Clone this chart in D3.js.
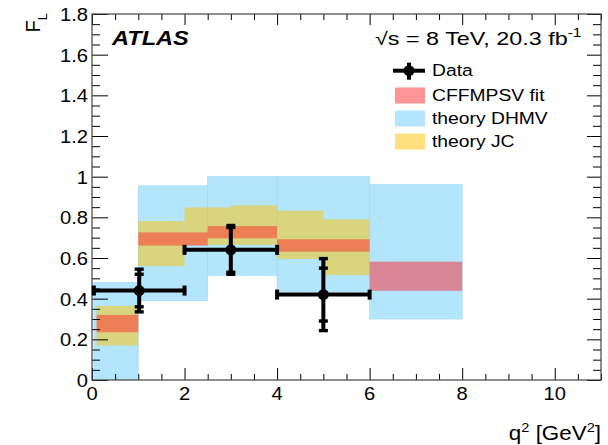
<!DOCTYPE html>
<html>
<head>
<meta charset="utf-8">
<script src="https://cdn.jsdelivr.net/npm/d3@7"></script>
<style>
  html, body { margin: 0; padding: 0; background: #fff; }
  svg { display: block; font-family: "Liberation Sans", Arial, Helvetica, sans-serif; }
</style>
</head>
<body>
<svg id="chart" width="608" height="445"></svg>
<script>
// ---- Measured longitudinal polarisation F_L in q^2 bins ----
const dataQ2 = [1.02, 3, 5];
const dataQ2Lo = [0.04, 2, 4];
const dataQ2Hi = [2, 4, 6];
const dataFL = [0.44, 0.64, 0.42];
const dataStat = [0.08, 0.11, 0.13];
const dataTotal = [0.105, 0.12, 0.177];

// ---- Theory DHMV bands ----
const dhmvQ2Lo = [0.04, 1, 2.5, 4, 6];
const dhmvQ2Hi = [1, 2.5, 4, 6, 8];
const dhmvLo = [0, 0.39, 0.515, 0.435, 0.30];
const dhmvHi = [0.48, 0.955, 1.0, 1.0, 0.962];

// ---- Theory JC bands ----
const jcQ2Lo = [0.1, 1, 2, 3, 4, 5];
const jcQ2Hi = [1, 2, 3, 4, 5, 6];
const jcLo = [0.17, 0.56, 0.665, 0.665, 0.595, 0.516];
const jcHi = [0.364, 0.782, 0.849, 0.859, 0.833, 0.79];

// ---- CFFMPSV fit bands ----
const fitQ2Lo = [0.1, 1, 2.5, 4, 6];
const fitQ2Hi = [1, 2.5, 4, 6, 8];
const fitLo = [0.235, 0.661, 0.697, 0.631, 0.439];
const fitHi = [0.32, 0.726, 0.757, 0.692, 0.582];

// ---- Axis ticks ----
const xTicks = [0, 2, 4, 6, 8, 10];
const xTickLabels = ["0", "2", "4", "6", "8", "10"];
const yTicks = [0, 0.2, 0.4, 0.6, 0.8, 1.0, 1.2, 1.4, 1.6, 1.8];
const yTickLabels = ["0", "0.2", "0.4", "0.6", "0.8", "1", "1.2", "1.4", "1.6", "1.8"];

const legendLabels = ["Data", "CFFMPSV fit", "theory DHMV", "theory JC"];

// ---- Colours ----
const blueFill = "#b3e5fc";
const yellowFill = "rgba(255,195,0,0.5)";
const redFill = "rgba(255,41,45,0.5)";

const svg = d3.select("#chart");
const W = 608, H = 445;
const plot = { left: 92, right: 601, top: 14, bottom: 380 };

const x = d3.scaleLinear().domain([0, 11]).range([plot.left, plot.right]);
const y = d3.scaleLinear().domain([0, 1.8]).range([plot.bottom, plot.top]);

// text helper: horizontally widened Helvetica-like text
const SX = 1.12;
function addText(parent, px, py, str, size, anchor, sx) {
  return parent.append("text")
    .attr("transform", `translate(${px},${py}) scale(${sx || SX},1)`)
    .attr("text-anchor", anchor || "start")
    .attr("font-size", size)
    .attr("fill", "#000")
    .text(str);
}
// rescale a text element so that its rendered width equals target
function fitWidth(sel, px, py, target) {
  const w = sel.node().getBBox().width;
  sel.attr("transform", `translate(${px},${py}) scale(${target / w},1)`);
}

const bands = svg.append("g").attr("clip-path", "url(#plotclip)");
svg.append("clipPath").attr("id", "plotclip").append("rect")
  .attr("x", plot.left).attr("y", plot.top)
  .attr("width", plot.right - plot.left).attr("height", plot.bottom - plot.top);

function drawBands(lo, hi, vLo, vHi, fill, stroke) {
  bands.append("g").selectAll("rect")
    .data(d3.range(lo.length))
    .join("rect")
    .attr("x", i => x(lo[i]))
    .attr("width", i => x(hi[i]) - x(lo[i]))
    .attr("y", i => y(vHi[i]))
    .attr("height", i => y(vLo[i]) - y(vHi[i]))
    .attr("fill", fill)
    .attr("stroke", stroke || "none")
    .attr("stroke-width", 0.6);
}
drawBands(dhmvQ2Lo, dhmvQ2Hi, dhmvLo, dhmvHi, blueFill, "#9fd8f8");
drawBands(jcQ2Lo, jcQ2Hi, jcLo, jcHi, yellowFill);
drawBands(fitQ2Lo, fitQ2Hi, fitLo, fitHi, redFill);

// ---- Axes: inward major + minor ticks on all four sides ----
const axes = svg.append("g");
function tickAxis(gen, scale, values, size, transform) {
  const g = axes.append("g").attr("transform", transform)
    .call(gen(scale).tickValues(values).tickSize(size).tickFormat(""));
  g.select(".domain").remove();
  g.selectAll("line").attr("stroke", "#000").attr("stroke-width", 1);
}
const xMinor = d3.range(0, 11.01, 0.5).filter(v => v % 2 !== 0);
const yMinor = d3.range(0, 1.801, 0.05).map(v => +v.toFixed(2)).filter(v => Math.round(v * 100) % 20 !== 0);

tickAxis(d3.axisBottom, x, xTicks, -12, `translate(0,${plot.bottom})`);
tickAxis(d3.axisBottom, x, xMinor, -6, `translate(0,${plot.bottom})`);
tickAxis(d3.axisTop, x, xTicks, -11, `translate(0,${plot.top})`);
tickAxis(d3.axisTop, x, xMinor, -6, `translate(0,${plot.top})`);
tickAxis(d3.axisLeft, y, yTicks, -16, `translate(${plot.left},0)`);
tickAxis(d3.axisLeft, y, yMinor, -8, `translate(${plot.left},0)`);
tickAxis(d3.axisRight, y, yTicks, -14, `translate(${plot.right},0)`);
tickAxis(d3.axisRight, y, yMinor, -8, `translate(${plot.right},0)`);

axes.append("rect")
  .attr("x", plot.left).attr("y", plot.top)
  .attr("width", plot.right - plot.left).attr("height", plot.bottom - plot.top)
  .attr("fill", "none").attr("stroke", "#444").attr("stroke-width", 1.2);

// tick labels
xTicks.forEach((v, i) => addText(axes, x(v), plot.bottom + 20, xTickLabels[i], 18, "middle"));
yTicks.forEach((v, i) => addText(axes, plot.left - 4, y(v) + 7, yTickLabels[i], 18, "end"));

// axis titles
const xt = axes.append("text")
  .attr("text-anchor", "end").attr("font-size", 20)
  .attr("transform", `translate(${plot.right},440) scale(${SX},1)`);
xt.append("tspan").text("q");
xt.append("tspan").attr("font-size", 13).attr("dy", -8).text("2");
xt.append("tspan").attr("dy", 8).text(" [GeV");
xt.append("tspan").attr("font-size", 13).attr("dy", -8).text("2");
xt.append("tspan").attr("dy", 8).text("]");

const yt = axes.append("text")
  .attr("text-anchor", "end").attr("font-size", 20)
  .attr("transform", "translate(40,13) rotate(-90)");
yt.append("tspan").text("F");
yt.append("tspan").attr("font-size", 13).attr("dy", 7).text("L");

// ---- Data points with stat and total uncertainties ----
const pts = svg.append("g").attr("fill", "#000").attr("stroke", "#000");
dataQ2.forEach((q, i) => {
  const cx = x(q), cy = y(dataFL[i]);
  pts.append("line").attr("x1", x(dataQ2Lo[i])).attr("x2", x(dataQ2Hi[i]))
    .attr("y1", cy).attr("y2", cy).attr("stroke-width", 4);
  pts.append("line").attr("x1", cx).attr("x2", cx)
    .attr("y1", y(dataFL[i] - dataTotal[i])).attr("y2", y(dataFL[i] + dataTotal[i]))
    .attr("stroke-width", 4);
  // end caps of the q^2 bin width
  [dataQ2Lo[i], dataQ2Hi[i]].forEach(v => {
    pts.append("rect").attr("x", x(v) - 2).attr("y", cy - 5)
      .attr("width", 4).attr("height", 10).attr("stroke", "none");
  });
  // caps for stat and total errors
  [dataStat[i], dataTotal[i]].forEach(e => {
    [dataFL[i] - e, dataFL[i] + e].forEach(v => {
      pts.append("rect").attr("x", cx - 4.5).attr("y", y(v) - 1.7)
        .attr("width", 9).attr("height", 3.4).attr("stroke", "none");
    });
  });
  pts.append("circle").attr("cx", cx).attr("cy", cy).attr("r", 5.5).attr("stroke", "none");
});

// ---- Labels ----
const atlas = addText(svg, 112, 45, "ATLAS", 21, "start")
  .attr("font-weight", "bold").attr("font-style", "italic");
fitWidth(atlas, 112, 45, 78);

const energy = svg.append("text").attr("font-size", 18).attr("text-anchor", "start");
energy.append("tspan").text("\u221As = 8 TeV, 20.3 fb");
energy.append("tspan").attr("font-size", 12).attr("dy", -8).text("-1");
fitWidth(energy, 375, 45, 207);

// ---- Legend ----
const leg = svg.append("g");
const legX = 395, legW = 30, legText = 432;
// data entry
{
  const cy = 70.7, cx = legX + legW / 2 - 1;
  leg.append("line").attr("x1", legX - 2).attr("x2", legX + legW).attr("y1", cy).attr("y2", cy)
    .attr("stroke", "#000").attr("stroke-width", 4);
  leg.append("line").attr("x1", cx).attr("x2", cx).attr("y1", cy - 8).attr("y2", cy + 9)
    .attr("stroke", "#000").attr("stroke-width", 4);
  leg.append("circle").attr("cx", cx).attr("cy", cy).attr("r", 5.5).attr("fill", "#000");
  addText(leg, legText, 76, legendLabels[0], 16.5, "start", 1.17);
}
const legFills = ["#ff9496", blueFill, "#ffe07e"];
const legTops = [87.5, 110.5, 133.5];
legFills.forEach((f, i) => {
  leg.append("rect").attr("x", legX).attr("y", legTops[i])
    .attr("width", legW).attr("height", 16).attr("fill", f);
  addText(leg, legText, legTops[i] + 13.3, legendLabels[i + 1], 16.5, "start", 1.17);
});
</script>
</body>
</html>
